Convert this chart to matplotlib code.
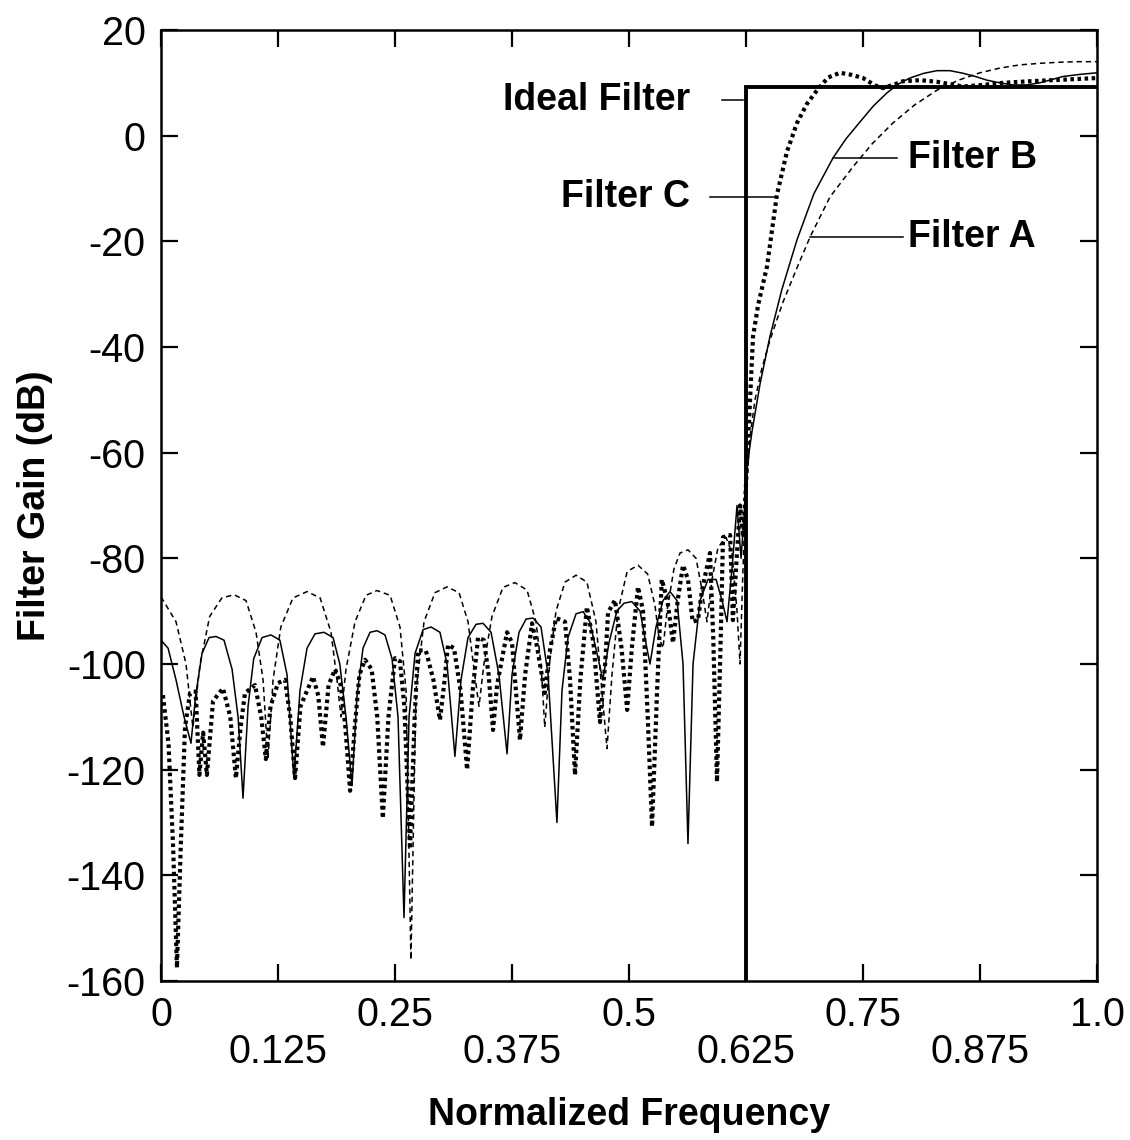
import matplotlib
matplotlib.use("Agg")
import matplotlib.pyplot as plt

plt.rcParams["font.family"] = ["Liberation Sans", "DejaVu Sans"]
plt.rcParams["axes.unicode_minus"] = False

# Filter A (thin dashed)
freq_a = [0.000, 0.016, 0.0267, 0.034, 0.0417, 0.052, 0.065, 0.078, 0.0908, 0.1015,
          0.109, 0.1143, 0.1197, 0.128, 0.141, 0.156, 0.170, 0.1816, 0.188, 0.1923,
          0.1976, 0.2073, 0.219, 0.2308, 0.2447, 0.2553, 0.2618, 0.267, 0.2724, 0.281,
          0.2927, 0.3056, 0.3184, 0.328, 0.3344, 0.3397, 0.345, 0.3536, 0.3654, 0.378,
          0.391, 0.4006, 0.406, 0.410, 0.4156, 0.422, 0.4316, 0.4434, 0.455, 0.4647,
          0.471, 0.4765, 0.4818, 0.4882, 0.498, 0.5096, 0.520, 0.5278, 0.532, 0.5363,
          0.5406, 0.548, 0.5545, 0.563, 0.5716, 0.578, 0.5833, 0.5887, 0.595, 0.6036,
          0.610, 0.6154, 0.6186, 0.6207, 0.624, 0.6293, 0.6346, 0.642, 0.6506, 0.6645,
          0.6795, 0.6934, 0.7147, 0.7393, 0.760, 0.782, 0.805, 0.829, 0.852, 0.875,
          0.8965, 0.9177, 0.940, 0.960, 0.980, 1.000]
gain_a = [-87.3, -92, -100, -112, -100, -91, -87.5, -86.9, -88, -94,
          -103, -118, -103, -93, -87.5, -86.3, -87.5, -94, -103, -110,
          -101, -92, -87, -86.1, -87, -93, -105, -156, -105, -92,
          -86.5, -85.4, -86.5, -92, -101, -108, -100, -91, -85.5, -84.6,
          -86, -92, -100, -112, -99, -90, -84.5, -83.2, -84.5, -92,
          -105, -116, -102, -90, -82.5, -81.3, -83, -89, -95, -97,
          -90, -82, -79, -78.4, -80, -86, -92, -84, -78, -76,
          -79, -90, -100, -88, -70, -57, -50, -44, -38.7, -31.5,
          -25, -19.2, -11.6, -5.9, -1.5, 2.4, 5.8, 8.6, 10.5, 11.9,
          12.8, 13.4, 13.7, 13.9, 14.0, 14.0]

# Filter B (solid)
freq_b = [0.000, 0.0075, 0.016, 0.0246, 0.032, 0.037, 0.0438, 0.0513, 0.0588, 0.0673,
          0.0759, 0.0823, 0.0876, 0.093, 0.099, 0.108, 0.1175, 0.127, 0.1346, 0.142,
          0.1485, 0.156, 0.1645, 0.174, 0.1838, 0.191, 0.1976, 0.204, 0.2094, 0.2158,
          0.2233, 0.2308, 0.2393, 0.2468, 0.2532, 0.2596, 0.265, 0.2714, 0.280, 0.2885,
          0.298, 0.3056, 0.314, 0.3205, 0.328, 0.3365, 0.344, 0.3526, 0.361, 0.3697,
          0.375, 0.3825, 0.390, 0.3974, 0.406, 0.4135, 0.423, 0.4284, 0.4348, 0.4434,
          0.451, 0.458, 0.4658, 0.472, 0.4786, 0.487, 0.4947, 0.503, 0.5118, 0.518,
          0.5224, 0.5288, 0.5363, 0.5438, 0.5513, 0.5577, 0.563, 0.5684, 0.5759, 0.5844,
          0.593, 0.5994, 0.6047, 0.610, 0.6154, 0.6197, 0.623, 0.625, 0.6314, 0.640,
          0.6506, 0.6632, 0.6795, 0.6975, 0.718, 0.7318, 0.7468, 0.761, 0.7756, 0.788,
          0.800, 0.815, 0.829, 0.843, 0.857, 0.870, 0.8825, 0.896, 0.910, 0.925,
          0.939, 0.9637, 0.982, 1.000]
gain_b = [-95.5, -97, -103, -110, -115, -106, -98, -95, -94.8, -95.5,
          -101, -110, -125.4, -108, -99, -95, -94.5, -95.5, -102, -121.6,
          -105, -97, -94.3, -94, -95, -100, -110, -123, -106, -97,
          -94, -93.7, -94.5, -99, -110, -148, -110, -98, -93.5, -93,
          -94, -100, -117.5, -103, -95, -92.5, -92.3, -94, -102, -117,
          -102, -94, -91.5, -91.3, -93, -102, -130, -105, -95, -90.5,
          -90.1, -92, -98, -103, -96, -90, -88.5, -88.2, -90, -96,
          -100, -93, -88, -86.3, -88, -100, -134, -100, -88, -84,
          -84, -88, -92, -82, -70, -80, -72, -64, -56, -47,
          -38, -29.2, -19.7, -11.0, -4.2, -0.6, 2.6, 5.6, 8.1, 9.8,
          10.9, 11.8, 12.3, 12.3, 11.8, 11.2, 10.5, 10.0, 9.6, 9.6,
          10.0, 11.2, 11.6, 11.9]

# Filter C (heavy dotted)
freq_c = [0.002, 0.008, 0.013, 0.017, 0.021, 0.0256, 0.031, 0.037, 0.041, 0.045,
          0.049, 0.0556, 0.0662, 0.074, 0.080, 0.085, 0.0897, 0.1004, 0.107, 0.112,
          0.117, 0.125, 0.1325, 0.138, 0.1432, 0.149, 0.1624, 0.168, 0.173, 0.179,
          0.186, 0.192, 0.197, 0.202, 0.207, 0.212, 0.218, 0.225, 0.231, 0.237,
          0.243, 0.250, 0.2553, 0.260, 0.266, 0.271, 0.2746, 0.283, 0.291, 0.298,
          0.303, 0.3066, 0.313, 0.320, 0.327, 0.333, 0.3387, 0.345, 0.350, 0.3547,
          0.359, 0.3697, 0.375, 0.3835, 0.389, 0.3964, 0.402, 0.410, 0.415, 0.422,
          0.4316, 0.437, 0.4423, 0.448, 0.455, 0.462, 0.469, 0.4745, 0.4776, 0.485,
          0.492, 0.498, 0.503, 0.5096, 0.515, 0.520, 0.5246, 0.530, 0.535, 0.541,
          0.547, 0.552, 0.5577, 0.563, 0.568, 0.5737, 0.578, 0.5865, 0.590, 0.594,
          0.598, 0.6004, 0.608, 0.611, 0.615, 0.6186, 0.622, 0.625, 0.628, 0.6325,
          0.638, 0.6474, 0.658, 0.6688, 0.6795, 0.690, 0.7009, 0.7126, 0.7254, 0.738,
          0.750, 0.763, 0.7714, 0.782, 0.7927, 0.811, 0.829, 0.857, 0.878, 0.8996,
          0.928, 0.953, 0.9765, 1.000]
gain_c = [-105.9, -115, -135, -157.5, -135, -112, -105.5, -105.2, -121, -113,
          -121, -107, -104.6, -110, -121.6, -112, -105.5, -104, -110, -118,
          -108, -103.6, -103, -110, -121.6, -108, -102.4, -106, -115.7, -104,
          -101, -104, -112, -124, -112, -102, -99.2, -101, -110, -129.2,
          -110, -98.9, -99.5, -108, -135, -110, -97.4, -97.5, -103, -110.6,
          -103, -96.4, -97, -105, -120, -105, -95, -95.5, -102, -112.5,
          -104, -94, -96, -114.4, -102, -92.3, -97, -105.5, -98, -91.3,
          -92, -103, -121, -103, -89.2, -96, -111, -100, -90.3, -87.9,
          -97, -108.7, -97, -85.4, -90, -110, -130.8, -105, -84, -88,
          -96, -88, -81.3, -84, -92, -91.7, -86, -79, -95, -122.3,
          -95, -76, -75.6, -91.7, -80, -70, -76, -66, -55, -38,
          -32, -24.8, -11.2, -3, 2.4, 6, 8.6, 11, 11.9, 11.5,
          10.9, 9.5, 9.0, 9.6, 10.3, 10.5, 10.2, 9.3, 9.6, 10.0,
          10.3, 10.5, 10.7, 10.9]

# Ideal brick-wall response
ideal_freq = [0.625, 0.625, 1.0]
ideal_gain = [-160, 9.2, 9.2]

x_ticks = [0, 0.125, 0.25, 0.375, 0.5, 0.625, 0.75, 0.875, 1.0]
x_tick_labels = ["0", "0.125", "0.25", "0.375", "0.5", "0.625", "0.75", "0.875", "1.0"]
y_ticks = [-160, -140, -120, -100, -80, -60, -40, -20, 0, 20]

fig = plt.figure(figsize=(11.3, 11.4), dpi=100)
ax = fig.add_axes([0.1425, 0.1395, 0.8283, 0.8342])

ax.plot(freq_a, gain_a, color="black", lw=1.1, ls=(0, (3.5, 2.5)))
ax.plot(freq_b, gain_b, color="black", lw=1.1)
ax.plot(freq_c, gain_c, color="black", lw=3.0, ls=(0, (0.85, 0.85)))
ax.plot(ideal_freq, ideal_gain, color="black", lw=2.8, solid_joinstyle="miter")

ax.set_xlim(0, 1)
ax.set_ylim(-160, 20)

# staggered frequency labels: every other one drops to a second row
ax.set_xticks(x_ticks)
ax.set_xticklabels([t if i % 2 == 0 else "\n" + t for i, t in enumerate(x_tick_labels)])
for lbl in ax.get_xticklabels():
    lbl.set_linespacing(0.95)
ax.set_yticks(y_ticks)
ax.tick_params(direction="in", length=12, width=1.6, labelsize=28.5,
               top=True, right=True, pad=11)
for s in ax.spines.values():
    s.set_linewidth(1.8)

ax.set_xlabel("Normalized Frequency", fontsize=27, fontweight="bold", labelpad=19)
ax.set_ylabel("Filter Gain (dB)", fontsize=27, fontweight="bold", labelpad=10)

# leader-line labels
lab = dict(fontsize=27, fontweight="bold", va="center")
ax.plot([0.5994, 0.622], [6.7, 6.7], color="black", lw=1.1)
ax.text(0.565, 6.7, "Ideal Filter", ha="right", **lab)
ax.plot([0.5865, 0.658], [-11.6, -11.6], color="black", lw=1.1)
ax.text(0.565, -11.6, "Filter C", ha="right", **lab)
ax.plot([0.718, 0.786], [-4.2, -4.2], color="black", lw=1.1)
ax.text(0.798, -4.2, "Filter B", ha="left", **lab)
ax.plot([0.6934, 0.793], [-19.2, -19.2], color="black", lw=1.1)
ax.text(0.798, -19.2, "Filter A", ha="left", **lab)

fig.savefig("out.png", dpi=100)
